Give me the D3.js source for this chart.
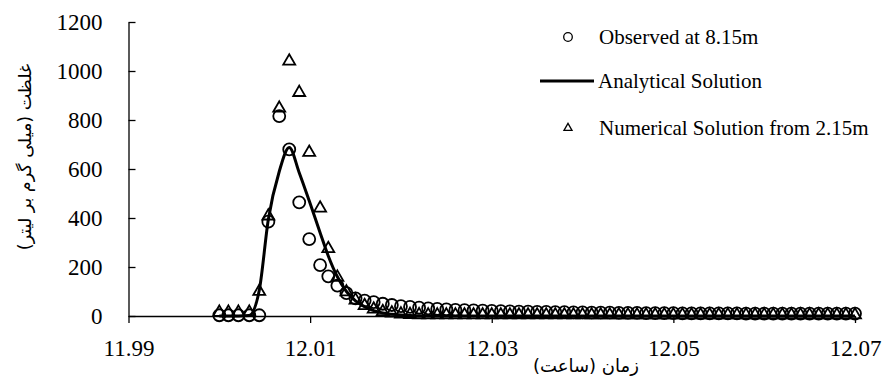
<!DOCTYPE html>
<html>
<head>
<meta charset="utf-8">
<script src="https://cdn.jsdelivr.net/npm/d3@7"></script>
<style>
  html, body { margin: 0; padding: 0; background: #fff; }
  svg { display: block; }
  .tick text { font-family: "Liberation Serif", "Times New Roman", serif; font-size: 23px; fill: #000; }
  .domain, .tick line { stroke: #000; stroke-width: 1.3px; }
</style>
</head>
<body>
<svg id="chart" width="885" height="383"></svg>
<script>
// Sampling times (hours)
const times = [
  12.0000, 12.0010, 12.0021, 12.0033, 12.0044, 12.0054, 12.0066, 12.0077, 12.0088, 12.0099,
  12.0111, 12.012, 12.013, 12.014, 12.015, 12.016, 12.017, 12.018, 12.019, 12.020,
  12.021, 12.022, 12.023, 12.024, 12.025, 12.026, 12.027, 12.028, 12.029, 12.030,
  12.031, 12.032, 12.033, 12.034, 12.035, 12.036, 12.037, 12.038, 12.039, 12.040,
  12.041, 12.042, 12.043, 12.044, 12.045, 12.046, 12.047, 12.048, 12.049, 12.050,
  12.051, 12.052, 12.053, 12.054, 12.055, 12.056, 12.057, 12.058, 12.059, 12.060,
  12.061, 12.062, 12.063, 12.064, 12.065, 12.066, 12.067, 12.068, 12.069, 12.070
];

// Observed concentration at 8.15 m (mg/L)
const observed = [
  3, 3, 3, 3, 3, 385, 816, 680, 464, 314,
  208, 162, 124, 93, 72, 63, 57, 50, 45, 40,
  37, 34, 31, 29, 27, 25, 24, 23, 22, 21,
  20, 19, 18, 18, 17, 17, 16, 16, 15, 15,
  14, 14, 14, 13, 13, 13, 12, 12, 12, 12,
  11, 11, 11, 11, 11, 11, 11, 10, 10, 10,
  10, 10, 10, 10, 10, 10, 10, 10, 10, 10
];

// Analytical solution (mg/L)
const analytical = [
  0, 0, 0, 2, 105, 395, 590, 688, 585, 470,
  340, 245, 160, 100, 62, 38, 22, 12, 7, 4,
  2, 1, 0, 0, 0, 0, 0, 0, 0, 0,
  0, 0, 0, 0, 0, 0, 0, 0, 0, 0,
  0, 0, 0, 0, 0, 0, 0, 0, 0, 0,
  0, 0, 0, 0, 0, 0, 0, 0, 0, 0,
  0, 0, 0, 0, 0, 0, 0, 0, 0, 0
];

// Numerical solution from 2.15 m (mg/L)
const numerical = [
  15, 15, 15, 15, 100, 408, 848, 1040, 912, 668,
  440, 275, 158, 98, 65, 42, 28, 18, 12, 8,
  6, 5, 4, 4, 4, 4, 4, 4, 4, 4,
  4, 4, 4, 4, 4, 4, 4, 4, 4, 4,
  4, 4, 4, 4, 4, 4, 4, 4, 4, 4,
  4, 4, 4, 4, 4, 4, 4, 4, 4, 4,
  4, 4, 4, 4, 4, 4, 4, 4, 4, 4
];

const xTicks = [11.99, 12.01, 12.03, 12.05, 12.07];
const yTicks = [0, 200, 400, 600, 800, 1000, 1200];

const legendLabels = ["Observed at 8.15m", "Analytical Solution", "Numerical Solution from 2.15m"];
const xTitle = "زمان (ساعت)";
const yTitle = "غلظت (میلی گرم بر لیتر)";

const svg = d3.select("#chart");

const x = d3.scaleLinear().domain([11.99, 12.07]).range([128.5, 855]);
const y = d3.scaleLinear().domain([0, 1200]).range([316, 22]);

// Axes
svg.append("g")
  .attr("transform", `translate(0,${y(0)})`)
  .call(d3.axisBottom(x).tickValues(xTicks).tickFormat(d3.format(".2f"))
        .tickSizeInner(7).tickSizeOuter(0).tickPadding(17));

svg.append("g")
  .attr("transform", `translate(${x(11.99)},0)`)
  .call(d3.axisLeft(y).tickValues(yTicks).tickFormat(d3.format("d"))
        .tickSizeInner(-7).tickSizeOuter(0).tickPadding(26));

// Axis titles
svg.append("text")
  .attr("x", 586).attr("y", 372)
  .attr("text-anchor", "middle")
  .style("font-family", "'DejaVu Sans', sans-serif")
  .style("font-size", "18px")
  .text(xTitle);

svg.append("text")
  .attr("transform", "translate(31,157) rotate(-90)")
  .attr("text-anchor", "middle")
  .style("font-family", "'DejaVu Sans', sans-serif")
  .style("font-size", "17.5px")
  .text(yTitle);

const pts = times.map((t, i) => ({ t, obs: observed[i], ana: analytical[i], num: numerical[i] }));

// Analytical curve
svg.append("path")
  .datum(pts)
  .attr("fill", "none")
  .attr("stroke", "#000")
  .attr("stroke-width", 3)
  .attr("stroke-linejoin", "round")
  .attr("d", d3.line().x(d => x(d.t)).y(d => y(d.ana)).curve(d3.curveMonotoneX));

// Observed markers
svg.append("g").selectAll("circle")
  .data(pts)
  .join("circle")
  .attr("cx", d => x(d.t))
  .attr("cy", d => y(d.obs))
  .attr("r", 6)
  .attr("fill", "none")
  .attr("stroke", "#000")
  .attr("stroke-width", 1.8);

// Numerical markers
const tri = d3.symbol().type(d3.symbolTriangle).size(62);
svg.append("g").selectAll("path")
  .data(pts)
  .join("path")
  .attr("transform", d => `translate(${x(d.t)},${y(d.num)})`)
  .attr("d", tri)
  .attr("fill", "none")
  .attr("stroke", "#000")
  .attr("stroke-width", 1.8);

// Legend
const lg = svg.append("g")
  .style("font-family", "'Liberation Serif', 'Times New Roman', serif")
  .style("font-size", "21px");

lg.append("circle").attr("cx", 568).attr("cy", 37).attr("r", 4.3)
  .attr("fill", "none").attr("stroke", "#000").attr("stroke-width", 1.3);
lg.append("text").attr("x", 599).attr("y", 44).text(legendLabels[0]);

lg.append("line").attr("x1", 540).attr("x2", 594).attr("y1", 81).attr("y2", 81)
  .attr("stroke", "#000").attr("stroke-width", 3);
lg.append("text").attr("x", 598).attr("y", 88).text(legendLabels[1]);

lg.append("path").attr("transform", "translate(568,128)")
  .attr("d", d3.symbol().type(d3.symbolTriangle).size(28))
  .attr("fill", "none").attr("stroke", "#000").attr("stroke-width", 1.3);
lg.append("text").attr("x", 599).attr("y", 135).text(legendLabels[2]);
</script>
</body>
</html>
